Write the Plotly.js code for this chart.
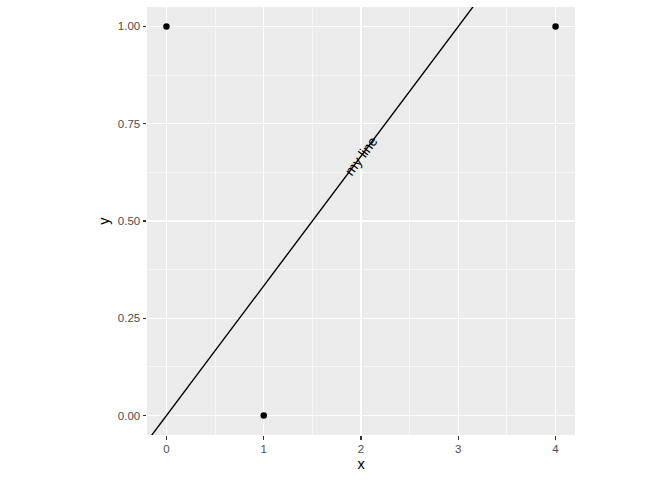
<!DOCTYPE html>
<html>
<head>
<meta charset="utf-8">
<script src="https://cdn.plot.ly/plotly-3.0.1.min.js"></script>
<style>html,body{margin:0;padding:0;background:#fff;}#chart{width:672px;height:480px;}</style>
</head>
<body>
<div id="chart"></div>
<script>
// Data
var pointX = [0, 1, 4];
var pointY = [1, 0, 1];
var lineSlope = 1 / 3;
var lineIntercept = 0;
var lineLabel = "my line";
var labelX = 2;
var xTickVals = [0, 1, 2, 3, 4];
var xTickText = ["0", "1", "2", "3", "4"];
var yTickVals = [0, 0.25, 0.5, 0.75, 1];
var yTickText = ["0.00", "0.25", "0.50", "0.75", "1.00"];

var xRange = [-0.2, 4.2];
var yRange = [-0.05, 1.05];
var W = 672, H = 480;
var margin = {l: 147, r: 97, t: 7, b: 45, pad: 0};

var lineX = [xRange[0] - 1, xRange[1] + 1];
var lineY = lineX.map(function (v) { return lineIntercept + lineSlope * v; });

// screen angle of the line
var pw = W - margin.l - margin.r, ph = H - margin.t - margin.b;
var pxSlope = lineSlope * (ph / (yRange[1] - yRange[0])) / (pw / (xRange[1] - xRange[0]));
var angle = -Math.atan(pxSlope) * 180 / Math.PI;

var traces = [
  {x: lineX, y: lineY, mode: "lines", type: "scatter",
   line: {color: "#000000", width: 1.4}, hoverinfo: "skip", cliponaxis: true},
  {x: pointX, y: pointY, mode: "markers", type: "scatter",
   marker: {color: "#000000", size: 6.5}, cliponaxis: false}
];

var tickFont = {family: "Liberation Sans, Arial, sans-serif", size: 11.5, color: "#4D4D4D"};
var titleFont = {family: "Liberation Sans, Arial, sans-serif", size: 14.5, color: "#000000"};

var layout = {
  width: W, height: H,
  margin: margin,
  paper_bgcolor: "#FFFFFF",
  plot_bgcolor: "#EBEBEB",
  showlegend: false,
  xaxis: {
    range: xRange, tickvals: xTickVals, ticktext: xTickText,
    showgrid: true, gridcolor: "#FFFFFF", gridwidth: 1.1,
    minor: {dtick: 0.5, tick0: 0, showgrid: true, gridcolor: "#FFFFFF", gridwidth: 0.6, ticks: ""},
    zeroline: false, showline: false,
    ticks: "outside", ticklen: 3.5, tickwidth: 1.1, tickcolor: "#333333",
    tickfont: tickFont,
    title: {text: "x", font: titleFont, standoff: 4},
    fixedrange: true
  },
  yaxis: {
    range: yRange, tickvals: yTickVals, ticktext: yTickText,
    showgrid: true, gridcolor: "#FFFFFF", gridwidth: 1.1,
    minor: {dtick: 0.125, tick0: 0, showgrid: true, gridcolor: "#FFFFFF", gridwidth: 0.6, ticks: ""},
    zeroline: false, showline: false,
    ticks: "outside", ticklen: 3.5, tickwidth: 1.1, tickcolor: "#333333",
    tickfont: tickFont,
    title: {text: "y", font: titleFont, standoff: 4},
    fixedrange: true
  },
  annotations: [{
    x: labelX, y: lineIntercept + lineSlope * labelX,
    xref: "x", yref: "y", text: lineLabel, showarrow: false,
    textangle: angle,
    font: {family: "Liberation Sans, Arial, sans-serif", size: 14, color: "#000000"},
    xanchor: "center", yanchor: "middle"
  }]
};

Plotly.newPlot("chart", traces, layout, {displayModeBar: false, staticPlot: true});
</script>
</body>
</html>
